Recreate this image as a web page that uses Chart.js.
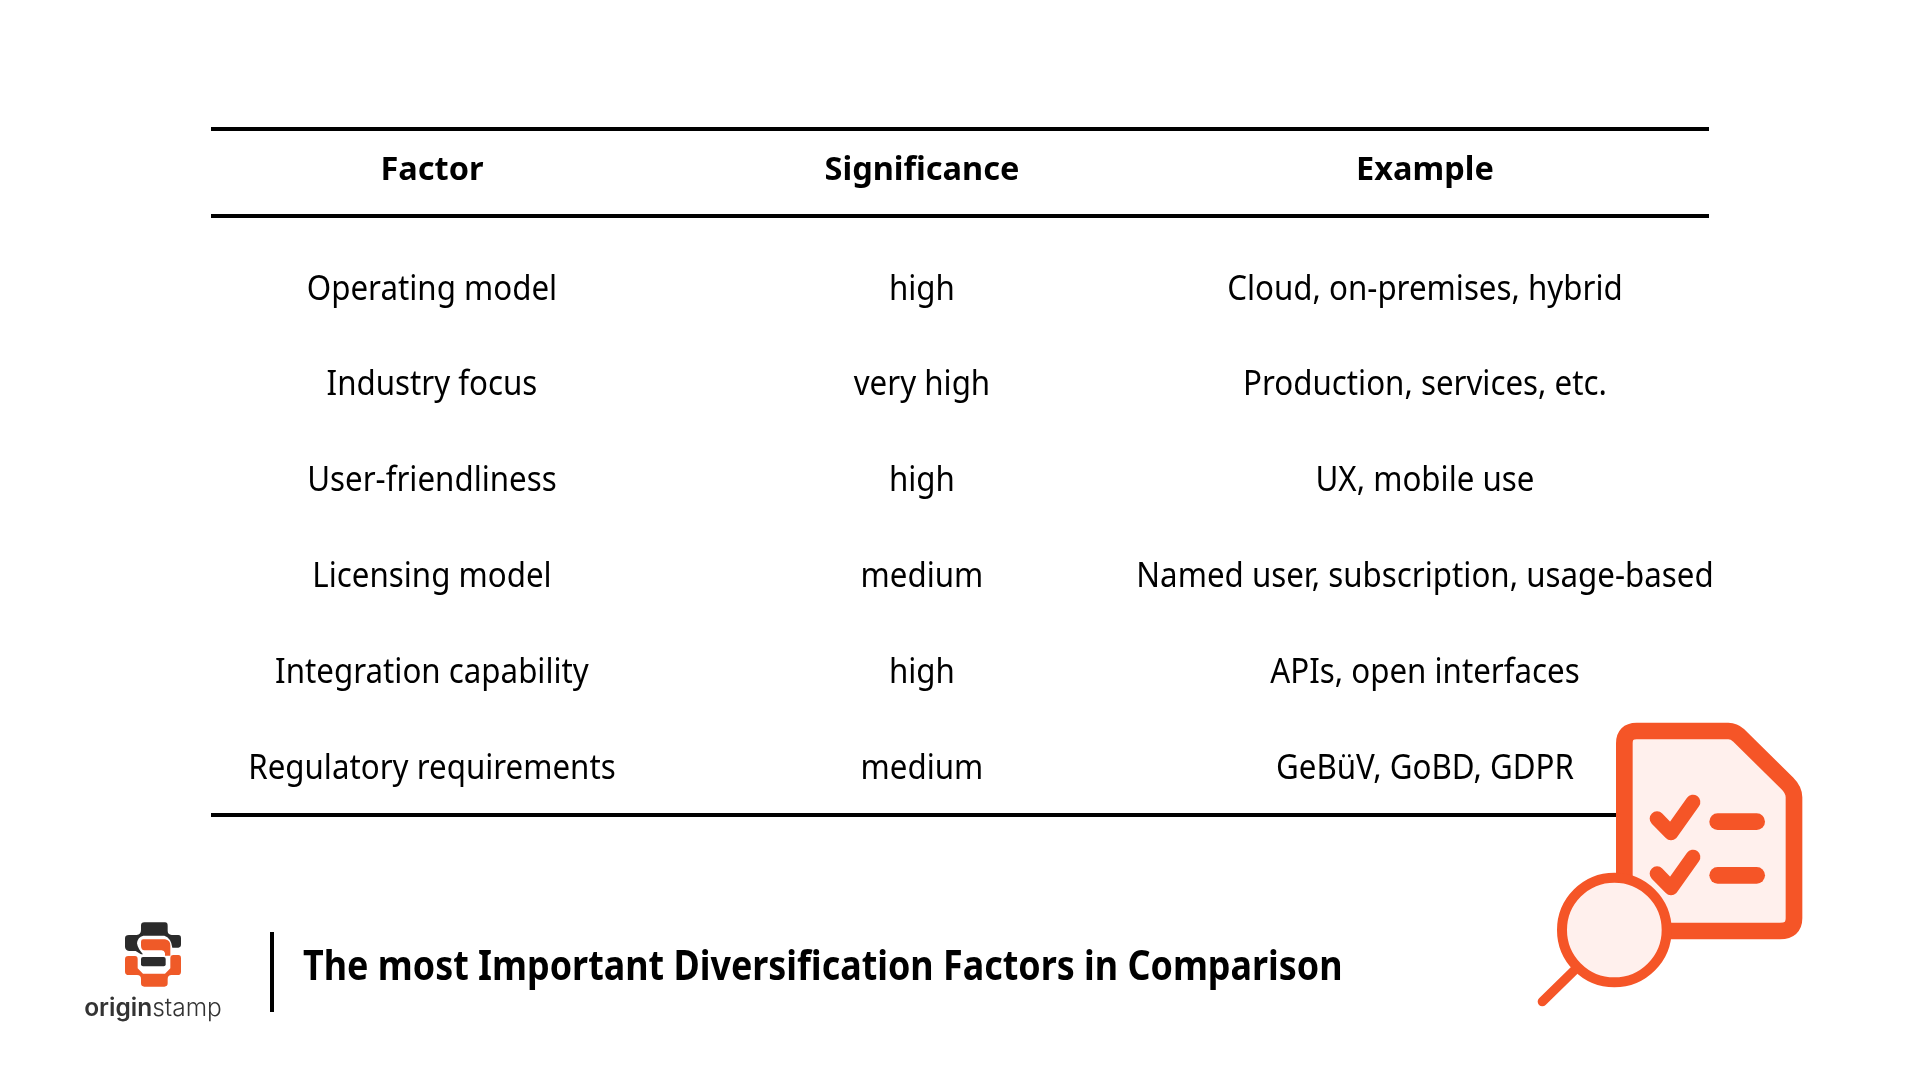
<!DOCTYPE html>
<html>
<head>
<meta charset="utf-8">
<style>
  html, body { margin: 0; padding: 0; background: #fff; }
  canvas { display: block; }
</style>
<script src="https://cdn.jsdelivr.net/npm/chart.js@4"></script>
</head>
<body>
<canvas id="table" width="1920" height="1080"></canvas>
<script>
const headers = ['Factor', 'Significance', 'Example'];
const factors = ['Operating model', 'Industry focus', 'User-friendliness', 'Licensing model', 'Integration capability', 'Regulatory requirements'];
const significance = ['high', 'very high', 'high', 'medium', 'high', 'medium'];
const examples = ['Cloud, on-premises, hybrid', 'Production, services, etc.', 'UX, mobile use', 'Named user, subscription, usage-based', 'APIs, open interfaces', 'GeBüV, GoBD, GDPR'];
const columnCenters = [0.1475, 0.4746, 0.8104];
const title = 'The most Important Diversification Factors in Comparison';

const columns = [factors, significance, examples];
const orange = '#F55527';
const tint = '#FFF0ED';

function line(ctx, x1, y1, x2, y2, w) {
  ctx.lineWidth = w;
  ctx.beginPath();
  ctx.moveTo(x1, y1);
  ctx.lineTo(x2, y2);
  ctx.stroke();
}

// font here is a bit wider than the original, so squeeze it
function squeezedText(ctx, text, x, y, sx) {
  ctx.save();
  ctx.translate(x, y);
  ctx.scale(sx, 1);
  ctx.fillText(text, 0, 0);
  ctx.restore();
}

function drawLogo(ctx) {
  ctx.save();
  ctx.translate(115, 915);
  ctx.scale(1 / 3, 1 / 3);
  ctx.fillStyle = '#2B2B2B';
  ctx.fill(new Path2D('M88 22H150Q158 22 158 32V48Q158 58 170 60H190Q198 60 198 70V88Q198 98 190 98H172Q168 68 148 62H85Q68 66 66 85Q68 100 84 118H78L62 108H42Q30 105 30 95V70Q30 60 42 60H65Q78 58 78 45V32Q78 22 88 22Z'));
  ctx.beginPath();
  ctx.roundRect(78, 126, 74, 28, 6);
  ctx.fill();
  ctx.fillStyle = '#EF5A28';
  ctx.fill(new Path2D('M85 73H150Q166 75 166 92V122H150V114Q148 106 140 106H88Q78 104 78 92V80Q78 73 85 73Z'));
  ctx.fill(new Path2D('M40 123H60Q68 123 68 132V160L84 176H150L166 160V130Q166 120 175 120H190Q198 120 198 130V170Q198 180 188 180H170Q158 180 158 192V205Q158 215 148 215H88Q78 215 78 205V192Q78 180 66 180H42Q30 180 30 170V133Q30 123 40 123Z'));
  ctx.restore();

  ctx.fillStyle = '#333';
  ctx.textBaseline = 'alphabetic';
  ctx.textAlign = 'left';
  ctx.font = '600 24.5px Inter';
  const w1 = ctx.measureText('origin').width;
  ctx.font = '300 24.5px Inter';
  const w2 = ctx.measureText('stamp').width;
  const start = 153 - (w1 + w2) / 2;
  ctx.font = '600 24.5px Inter';
  ctx.fillText('origin', start, 1016);
  ctx.font = '300 24.5px Inter';
  ctx.fillText('stamp', start + w1, 1016);
}

function drawIcon(ctx) {
  ctx.save();
  ctx.translate(1510, 700);
  ctx.scale(1 / 3, 1 / 3);
  ctx.lineCap = 'round';
  ctx.lineJoin = 'round';
  ctx.strokeStyle = orange;
  ctx.fillStyle = tint;

  const doc = new Path2D('M343 130Q343 93 380 93H655Q672 93 686 106L832 250Q852 270 852 292V655Q852 693 810 693H380Q343 693 343 655Z');
  ctx.fill(doc);
  ctx.lineWidth = 50;
  ctx.stroke(doc);

  [0, 165].forEach(dy => {
    ctx.lineWidth = 44;
    ctx.beginPath();
    ctx.moveTo(441, 356 + dy);
    ctx.lineTo(483, 399 + dy);
    ctx.lineTo(549, 306 + dy);
    ctx.stroke();
  });
  line(ctx, 623, 365, 740, 365, 50);
  line(ctx, 623, 526, 740, 526, 50);

  line(ctx, 192, 812, 97, 905, 28);
  ctx.lineWidth = 30;
  ctx.beginPath();
  ctx.arc(313, 690, 157, 0, Math.PI * 2);
  ctx.fill();
  ctx.stroke();
  ctx.restore();
}

const tablePlugin = {
  id: 'tablePlugin',
  afterDatasetsDraw(chart) {
    const ctx = chart.ctx;
    const area = chart.chartArea;
    ctx.save();

    // rules
    ctx.strokeStyle = '#000';
    ctx.lineCap = 'butt';
    line(ctx, area.left, 129, area.right, 129, 4);
    line(ctx, area.left, 216, area.right, 216, 4);
    line(ctx, area.left, area.bottom, area.right, area.bottom, 4);

    // cells
    ctx.fillStyle = '#000';
    ctx.font = '400 34px "Noto Sans"';
    ctx.textAlign = 'center';
    ctx.textBaseline = 'middle';
    chart.data.datasets.forEach((ds, i) => {
      chart.getDatasetMeta(i).data.forEach((pt, r) => {
        squeezedText(ctx, columns[i][r], pt.x, pt.y + 2, 0.92);
      });
    });

    // footer
    ctx.strokeStyle = '#000';
    line(ctx, 272, 932, 272, 1012, 4);
    ctx.font = '700 41px "Noto Sans"';
    ctx.textAlign = 'left';
    squeezedText(ctx, title, 303, 968, 0.875);
    drawLogo(ctx);
    drawIcon(ctx);
    ctx.restore();
  }
};

new Chart(document.getElementById('table'), {
  type: 'scatter',
  data: {
    datasets: columns.map((col, i) => ({
      label: headers[i],
      data: col.map((_, r) => ({ x: columnCenters[i], y: factors[r] })),
      pointRadius: 0
    }))
  },
  options: {
    responsive: false,
    animation: false,
    devicePixelRatio: 1,
    layout: { padding: { left: 211, right: 211, top: 129, bottom: 265 } },
    plugins: { legend: { display: false }, tooltip: { enabled: false } },
    scales: {
      x: {
        type: 'linear',
        position: 'top',
        min: 0,
        max: 1,
        afterBuildTicks: axis => { axis.ticks = columnCenters.map(v => ({ value: v })); },
        afterFit: axis => { axis.height = 111; },
        grid: { display: false, drawTicks: false },
        border: { display: false },
        ticks: {
          autoSkip: false,
          maxRotation: 0,
          padding: 50,
          color: '#000',
          font: { family: '"Noto Sans"', size: 32.5, weight: '700' },
          callback: (v, i) => headers[i]
        }
      },
      y: {
        type: 'category',
        labels: factors,
        offset: true,
        display: false
      }
    }
  },
  plugins: [tablePlugin]
});
</script>
</body>
</html>
